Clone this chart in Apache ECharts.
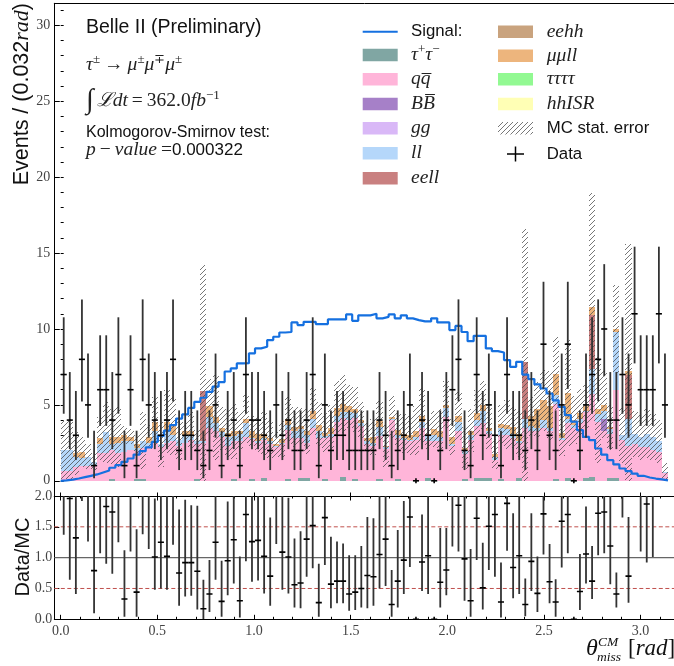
<!DOCTYPE html>
<html><head><meta charset="utf-8">
<script src="https://cdn.jsdelivr.net/npm/echarts@6/dist/echarts.min.js"></script>
<style>html,body{margin:0;padding:0;background:#fff}#c{width:674px;height:666px}</style>
</head><body><div id="c"></div>
<script>
// ---------------- binning ----------------
const binCount = 100;
const binLow = 0, binHigh = Math.PI;

// ---------------- tick labels ----------------
const xTickValues = [0, 0.5, 1.0, 1.5, 2.0, 2.5, 3.0];
const yMainTickValues = [0, 5, 10, 15, 20, 25, 30];
const yRatioTickValues = [0, 0.5, 1.0, 1.5, 2.0];
const ratioRefSolid = [1.0];
const ratioRefDashed = [0.5, 1.5];

// ---------------- data (counts per bin) ----------------
const dataCounts = [7,4,3,8,5,1,6,6,4,7,
 1,6,1,8,5,4,3,4,8,2,
 3,3,2,1,2,5,1,3,4,1,
 7,4,4,3,2,5,3,4,2,2,
 4,7,1,5,2,3,3,2,2,2,
 2,2,4,3,1,2,3,5,0,4,
 3,0,2,4,6,8,2,1,7,3,
 5,3,1,7,3,3,2,4,2,9,
 3,2,5,9,0,2,5,7,8,10,
 4,4,7,5,11,6,6,6,11,5];

// Garwood 68% Poisson intervals for n = 0..12
const garwoodLow = [0, 0.173, 0.708, 1.367, 2.086, 2.840, 3.620, 4.419, 5.232, 6.057, 6.891, 7.734, 8.585];
const garwoodHigh = [0, 3.300, 4.638, 5.918, 7.163, 8.382, 9.584, 10.77, 11.95, 13.11, 14.27, 15.42, 16.56];

// ---------------- signal ----------------
const signalTau3Mu = [0.03,0.08,0.15,0.24,0.33,0.42,0.55,0.68,0.86,1.03,
 1.25,1.47,1.73,1.95,2.2,2.57,2.96,3.3,3.67,4.1,
 4.37,4.8,5.2,5.47,5.86,6.2,6.5,7.2,7.4,7.73,
 7.75,8.4,8.72,8.83,9.27,9.49,9.77,9.8,10.43,10.26,
 10.47,10.47,10.32,10.32,10.63,10.63,10.63,10.96,10.54,10.9,
 10.9,11.0,10.7,10.8,10.96,10.7,10.9,10.7,10.58,10.5,
 10.5,10.7,10.43,10.43,9.93,10.2,9.8,9.2,9.55,9.55,
 8.72,8.54,8.45,7.95,7.5,7.84,7.0,6.7,6.35,6.08,
 5.75,5.3,4.87,4.33,3.9,3.34,2.9,2.68,2.13,1.73,
 1.36,1.08,0.81,0.64,0.48,0.33,0.22,0.15,0.1,0.03];

// ---------------- MC backgrounds ----------------
const bkgTauTau = [0,0,0,0,0,0,0,0,0.1,0,
 0,0,0.15,0.15,0,0,0,0,0,0,
 0,0,0.15,0,0,0,0,0,0.15,0,
 0,0.15,0,0.2,0,0,0,0.15,0,0.2,
 0.2,0,0,0.15,0,0,0.25,0,0.15,0,
 0,0,0.15,0,0,0.15,0,0,0,0,
 0.2,0,0,0,0,0,0.15,0,0.2,0.2,
 0.2,0,0.15,0,0,0.2,0,0,0,0,
 0,0.15,0,0.2,0,0,0.2,0.25,0,0,
 0.2,0.2,0,0,0,0,0,0,0,0];
const bkgQQ = [0.65,0.65,0.9,1.0,1.0,1.05,1.8,1.8,1.9,1.8,
 1.9,2.0,1.8,2.0,2.3,2.6,2.2,2.5,2.6,2.3,
 2.5,2.7,2.3,2.5,3.5,3.3,2.9,2.3,2.5,2.6,
 2.9,2.6,2.5,2.5,2.4,2.2,2.4,3.2,2.8,2.6,
 2.3,3.5,2.8,2.7,2.9,3.9,3.9,4.0,4.0,3.6,
 2.4,2.3,2.8,2.1,4.0,2.7,2.7,2.6,2.7,3.5,
 2.4,2.6,2.6,4.2,2.3,3.3,1.6,2.7,3.4,3.6,
 2.9,1.4,2.9,3.0,2.8,2.3,3.5,3.3,3.3,3.5,
 3.3,4.9,2.7,3.6,3.5,3.8,4.3,5.5,3.9,3.3,
 2.9,5.8,2.7,2.3,2.4,2.2,2.2,2.0,1.9,0.5];
const bkgBB = [0,0,0,0,0,0,0,0,0,0,
 0,0,0,0,0,0,0,0,0,0,
 0,0,0,0,0,0,0,0,0,0,
 0,0,0,0,0,0,0,0,0,0,
 0,0,0,0,0,0,0,0,0,0,
 0,0,0,0,0,0,0,0,0,0,
 0,0,0,0,0,0,0,0,0,0,
 0,0,0,0,0,0,0,0,0,0,
 0,0,0,0,0,0,0,0,0,0.8,
 0,0,0,0,0,0,0,0,0,0];
const bkgLL = [1.4,1.4,0.7,0.5,0.6,0.2,0.6,1.4,0.4,0.7,
 0.7,0.6,0.2,0.5,0.2,0.7,0.2,0.7,0.4,0.4,
 0.5,0.3,0.2,0.1,0.7,0.5,0.3,0.6,0.3,0.5,
 0.9,0.1,0.1,0.1,0.2,0.1,0.1,0.3,0.5,0.6,
 0.5,0.6,0.5,0.1,0.2,0.4,0.4,0.5,0.3,0.2,
 0.2,0.2,0.6,0.1,0.1,0.2,0.1,0.1,0.2,0.4,
 0.4,0.4,0.3,0.6,0.1,0.6,0.2,0.3,0.4,0.8,
 0.2,0.2,0.4,0.4,0.3,0.1,0.6,0.3,0.2,0.5,
 0.2,0.6,0.1,0.3,0.2,0.3,0.1,1.6,0.5,0.5,
 0.3,3.8,0.3,1.8,0.7,0.7,0.9,0.9,0.7,0.1];
const bkgEEll = [0,0,0,0,0,0,0,0,0,0,
 0,0,0,0,0,0,0,0,0,0,
 0,0,0,3.3,0,0,0,0,0,0,
 0,0,0,0,0,0,0,0,0,0,
 0,0,0,0,0,0,0,0,0,0,
 0,0,0,0,0,0,0,0,0,0,
 0,0,0,0,0,0,0,0,0,0,
 0,0,0,0,0,0,3.7,0,0,0,
 0,0,0,0,0,0,0,3.6,0,0,
 0,0,0,2.9,0,0,0,0,0,0];
const bkgMuMuLL = [0,0,0.2,0.4,0,0,0.4,0,0.5,0.4,
 0.4,0.3,0.3,0,0.4,0.6,0,0.7,0.6,0,
 0.3,0.3,0,0,0.7,0.4,0.25,0.26,0.3,0.2,
 0.3,0.45,0.5,0.3,0.2,0.1,0.25,0.45,0.25,0.2,
 0.25,0.5,0.4,0.23,0.4,0.5,0.5,0.4,0.25,0.2,
 0.2,0.4,0.4,0.1,0.1,0.3,0.3,0.3,0.4,0.4,
 0.1,0.4,0.4,0.2,0.5,0.4,0.2,0.3,0.45,0.4,
 0.2,0.16,0.27,0.3,0.45,0.5,0,0.65,1.2,1.3,
 1.4,1.4,0.35,1.7,0.3,0.35,0.3,0.5,0.3,0.4,
 0.15,0.2,0,0.2,0,0,0,0,0,0];
const mcStatErr = [1.9,2.0,1.4,1.0,0.8,0.6,1.4,2.0,1.8,2.0,
 0.6,0.5,0.6,1.9,0.8,1.6,1.5,2.1,1.9,1.3,
 0.6,1.2,0.7,8.3,1.8,2.8,1.4,1.6,1.8,1.2,
 1.6,1.0,1.2,1.4,1.3,0.8,1.2,1.5,1.3,1.2,
 1.5,1.6,1.5,1.3,1.5,1.8,1.9,1.4,1.5,1.2,
 1.0,1.2,1.3,1.4,1.4,1.2,1.3,1.3,1.6,1.8,
 1.0,1.2,1.4,1.6,1.2,1.6,1.4,1.4,1.5,1.6,
 1.4,1.0,1.3,1.6,1.4,1.5,8.8,1.3,1.8,2.0,
 2.3,2.4,1.5,3.5,1.6,1.6,1.4,7.5,3.5,2.2,
 1.5,2.9,1.8,8.4,1.5,1.5,1.6,1.5,1.4,0.6];

// ---------------- Data / MC ratio ----------------
const ratioVal = [2.2,1.96,1.32,2.5,2.3,0.79,2.1,1.83,1.74,2.2,
 0.33,2.2,0.44,2.4,2.1,1.01,1.25,1.02,2.2,0.75,
 0.92,0.92,0.78,0.17,0.41,1.25,0.29,0.95,1.29,0.30,
 1.70,1.26,1.28,1.02,0.70,2.2,1.09,1.01,0.56,0.59,
 1.30,1.52,0.27,1.65,0.57,0.62,0.62,0.41,0.44,0.50,
 0.71,0.69,1.05,1.30,0.24,0.62,0.96,1.66,0,0.93,
 1.03,0,0.60,0.80,2.2,1.85,0.98,0.30,1.64,0.51,
 1.51,1.70,0.28,1.88,0.84,1.03,0.24,0.94,0.42,1.71,
 0.61,0.28,1.59,1.70,0,0.45,1.06,0.62,1.72,1.74,
 1.19,0.41,2.5,0.70,3.0,2.2,1.87,2.1,3.0,2.5];
const ratioLow = [1.37,0.64,0.41,1.92,1.26,0.10,1.07,0.90,0.74,1.25,
 0.04,1.10,0.04,1.38,1.14,0.48,0.50,0.48,1.21,0.22,
 0.37,0.38,0.16,0.0,0.12,0.64,0.04,0.39,0.58,0.03,
 0.94,0.61,0.63,0.42,0.22,1.22,0.48,0.42,0.19,0.18,
 0.69,0.83,0.04,0.88,0.18,0.26,0.26,0.14,0.15,0.19,
 0.18,0.22,0.50,0.54,0.04,0.19,0.41,0.85,0,0.46,
 0.41,0,0.19,0.39,1.18,1.10,0.30,0.04,0.96,0.16,
 0.80,0.69,0.03,1.11,0.34,0.41,0.05,0.46,0.12,1.05,
 0.26,0.04,0.84,1.07,0,0.15,0.58,0.33,1.04,1.07,
 0.57,0.19,1.65,0.27,2.1,1.10,0.92,1.01,2.1,2.1];
const ratioHigh = [4,4,3,4,4,2.5,4,3,3,4,
 1.12,4,1.46,4,4,1.96,3,2.1,4,1.78,
 1.94,1.85,1.84,0.64,0.96,2.3,0.95,1.91,2.3,1.02,
 3,2.3,2.3,2.1,1.65,4,2.1,1.97,1.31,1.43,
 2.3,2.5,0.90,2.7,1.34,1.26,1.23,1.04,1.04,1.19,
 1.66,1.64,2.1,2.5,0.80,1.45,1.92,2.7,0,1.70,
 2.1,0,1.48,1.48,4,3,2.1,1.14,2.6,1.24,
 2.5,3,0.92,3,1.72,2.1,0.66,1.72,1.02,2.5,
 1.22,0.65,2.7,2.5,0,1.06,1.83,1.19,2.6,2.6,
 2.1,0.76,4,1.66,5,4,3,4,5,4];

// ---------------- styling ----------------
const xMin = -0.033, xMax = 3.183;
const yMainMin = -1.0, yMainMax = 31.45;
const SANS = '"Liberation Sans", Arial, sans-serif';
const SERIF = '"Liberation Serif", "DejaVu Serif", serif';
const colors = {
  signal: '#1570e0', tautau: '#80a6a3', qq: '#ffb5d9', BB: '#a680c8', gg: '#d9b8f7',
  ll: '#b5d7fa', eell: '#c98080', eehh: '#c9a37e', mumull: '#edb57d', tttt: '#92f992', hhISR: '#ffffb5'
};

// hatch pattern
const hatch = document.createElement('canvas');
hatch.width = 5; hatch.height = 5;
(function(){const g = hatch.getContext('2d'); g.strokeStyle = '#4a4a4a'; g.lineWidth = 0.75;
 g.beginPath(); g.moveTo(0,5); g.lineTo(5,0); g.moveTo(-1,1); g.lineTo(1,-1); g.moveTo(4,6); g.lineTo(6,4); g.stroke();})();
const hatchFill = {image: hatch, repeat: 'repeat'};

const binW = (binHigh - binLow) / binCount;
const edge = i => binLow + binW * i;

// ---------------- build series ----------------
function rectRender(fill){
  return function(params, api){
    const a = api.coord([api.value(0), api.value(2)]);
    const b = api.coord([api.value(1), api.value(3)]);
    const x0 = Math.round(a[0]), x1 = Math.round(b[0]);
    const y0 = Math.round(a[1]), y1 = Math.round(b[1]);
    if (y0 - y1 <= 0) return {type:'group', children:[]};
    return {type:'rect', shape:{x:x0, y:y1, width:x1-x0, height:y0-y1}, style:{fill: fill}};
  };
}
const stackComps = [
  {vals: bkgTauTau, color: colors.tautau},
  {vals: bkgQQ, color: colors.qq},
  {vals: bkgBB, color: colors.BB},
  {vals: bkgLL, color: colors.ll},
  {vals: bkgEEll, color: colors.eell},
  {vals: bkgMuMuLL, color: colors.mumull}
];
const running = dataCounts.map(() => 0);
const series = [];
stackComps.forEach(c => {
  const items = [];
  for (let i = 0; i < binCount; i++){
    const lo = running[i]; running[i] += c.vals[i];
    items.push([edge(i), edge(i+1), lo, running[i]]);
  }
  series.push({type:'custom', xAxisIndex:0, yAxisIndex:0, z:2, silent:true,
    encode:{x:[0,1], y:[2,3]}, data: items, renderItem: rectRender(c.color)});
});
// MC stat error band
const errItems = [];
for (let i = 0; i < binCount; i++){
  errItems.push([edge(i), edge(i+1), Math.max(0, running[i] - mcStatErr[i]), running[i] + mcStatErr[i]]);
}
series.push({type:'custom', xAxisIndex:0, yAxisIndex:0, z:3, silent:true,
  encode:{x:[0,1], y:[2,3]}, data: errItems, renderItem: rectRender(hatchFill)});

// signal step line
const sigPts = [[edge(0), 0]];
for (let i = 0; i < binCount; i++){ sigPts.push([edge(i), signalTau3Mu[i]]); sigPts.push([edge(i+1), signalTau3Mu[i]]); }
sigPts.push([edge(binCount), 0]);
series.push({type:'line', xAxisIndex:0, yAxisIndex:0, z:4, data: sigPts, showSymbol:false, symbol:'none',
  lineStyle:{color: colors.signal, width: 2.2}, silent:true, animation:false});

// data points
function errRender(params, api){
  const xc = api.value(0), v = api.value(1), lo = api.value(2), hi = api.value(3);
  const xs = api.value(4), xe = api.value(5), show = api.value(6);
  const pLo = api.coord([xc, lo]), pHi = api.coord([xc, hi]);
  const m0 = api.coord([xs, v]), m1 = api.coord([xe, v]);
  const ch = [];
  if (pLo[1] - pHi[1] > 0.5) ch.push({type:'line', shape:{x1:pLo[0], y1:pLo[1], x2:pHi[0], y2:pHi[1]}, style:{stroke:'#333', lineWidth:1.8}});
  else ch.push({type:'line', shape:{x1:m0[0]/2+m1[0]/2, y1:m0[1]-2.5, x2:m0[0]/2+m1[0]/2, y2:m0[1]+2.5}, style:{stroke:'#000', lineWidth:1.6}});
  if (show) ch.push({type:'line', shape:{x1:m0[0], y1:m0[1], x2:m1[0], y2:m1[1]}, style:{stroke:'#000', lineWidth:1.6}});
  return {type:'group', children: ch};
}
const dataItems = dataCounts.map((n, i) => [edge(i) + binW/2, n, garwoodLow[n], garwoodHigh[n], edge(i), edge(i+1), 1]);
series.push({type:'custom', xAxisIndex:0, yAxisIndex:0, z:5, silent:true,
  encode:{x:0, y:[1,2,3]}, data: dataItems, renderItem: errRender});

// ratio reference lines
ratioRefSolid.forEach(v => series.push({type:'line', xAxisIndex:2, yAxisIndex:2, z:1, symbol:'none', silent:true,
  data:[[xMin, v],[xMax, v]], lineStyle:{color:'#666', width:1.2}}));
ratioRefDashed.forEach(v => series.push({type:'line', xAxisIndex:2, yAxisIndex:2, z:1, symbol:'none', silent:true,
  data:[[xMin, v],[xMax, v]], lineStyle:{color:'#c0504d', width:1, type:[4,2.5]}}));
// ratio points
const ratioItems = ratioVal.map((r, i) => [edge(i) + binW/2, Math.min(r, 2.5), ratioLow[i], Math.min(ratioHigh[i], 2.05), edge(i), edge(i+1), r <= 2 ? 1 : 0]);
series.push({type:'custom', xAxisIndex:2, yAxisIndex:2, z:5, silent:true, clip:true,
  encode:{x:0, y:[1,2,3]}, data: ratioItems, renderItem: errRender});

// ---------------- axes ----------------
const minorX = []; for (let k = 0; k <= 31; k++) minorX.push(k/10);
const minorYMain = []; for (let k = -1; k <= 31; k++) minorYMain.push(k);
const tickLabelStyle = {fontFamily: SERIF, fontSize: 14, color: '#444'};
function xAx(grid, pos, opts){
  return Object.assign({gridIndex: grid, type:'value', min:xMin, max:xMax, position:pos,
    axisLine:{show:false, lineStyle:{color:'#000', width:1}}, axisTick:{show:false}, axisLabel:{show:false},
    splitLine:{show:false}, minorTick:{show:false}}, opts);
}
const xAxes = [
  xAx(0, 'bottom', {axisLine:{show:true, onZero:false, lineStyle:{color:'#000', width:1}},
    axisTick:{show:true, inside:true, length:3.5, customValues:xTickValues, lineStyle:{color:'#000'}}}),
  xAx(0, 'top', {axisLine:{show:true, onZero:false, lineStyle:{color:'#000', width:1}}}),
  xAx(1, 'bottom', {axisLine:{show:true, onZero:false, lineStyle:{color:'#000', width:1}},
    axisTick:{show:true, inside:true, length:4.5, customValues:xTickValues, lineStyle:{color:'#000'}},
    axisLabel:Object.assign({show:true, customValues:xTickValues, margin:5, formatter: v => v.toFixed(1)}, tickLabelStyle)}),
  xAx(1, 'bottom', {axisTick:{show:true, inside:true, length:2.5, customValues:minorX, lineStyle:{color:'#000'}}}),
  xAx(1, 'top', {axisLine:{show:true, onZero:false, lineStyle:{color:'#000', width:1}},
    axisTick:{show:true, inside:true, length:4.5, customValues:xTickValues, lineStyle:{color:'#000'}}}),
  xAx(1, 'top', {axisTick:{show:true, inside:true, length:2.5, customValues:minorX, lineStyle:{color:'#000'}}})
];
const yAxes = [
  {gridIndex:0, type:'value', min:yMainMin, max:yMainMax, position:'left',
    axisLine:{show:true, onZero:false, lineStyle:{color:'#000', width:1}},
    axisTick:{show:true, inside:true, length:5.5, customValues:yMainTickValues, lineStyle:{color:'#000'}},
    axisLabel:Object.assign({show:true, customValues:yMainTickValues, margin:4}, tickLabelStyle),
    splitLine:{show:false}},
  {gridIndex:0, type:'value', min:yMainMin, max:yMainMax, position:'left',
    axisLine:{show:false}, axisTick:{show:true, inside:true, length:3, customValues:minorYMain, lineStyle:{color:'#000'}},
    axisLabel:{show:false}, splitLine:{show:false}},
  {gridIndex:1, type:'value', min:0, max:2, position:'left',
    axisLine:{show:true, onZero:false, lineStyle:{color:'#000', width:1}},
    axisTick:{show:true, inside:true, length:5, customValues:yRatioTickValues, lineStyle:{color:'#000'}},
    axisLabel:Object.assign({show:true, customValues:yRatioTickValues, margin:2, formatter: v => v.toFixed(1)}, tickLabelStyle),
    splitLine:{show:false}}
];

// ---------------- text & legend ----------------
const gfx = [];
const IT = 'italic 19.5px ' + SERIF, RM = '19.5px ' + SERIF;
const mathRich = {
  m:{font: IT, fill:'#222'},
  r:{font: RM, fill:'#222'},
  rel:{font: RM, fill:'#222', padding:[0,4,0,4]},
  rell:{font: RM, fill:'#222', padding:[0,0,0,4]},
  s:{font: '17px ' + SANS, fill:'#111'},
  ls:{font: '16.8px ' + SANS, fill:'#111'},
  sup:{font: '13px ' + SERIF, fill:'#222', padding:[0,0,10,0]},
  big:{font: '28px ' + SERIF, fill:'#222', padding:[0,3,0,0]}
};
function txt(x, y, text, font, extra){
  gfx.push({type:'text', x:x, y:y, z:10, silent:true,
    style:Object.assign({text:text, font:font, fill:'#111', verticalAlign:'middle', align:'left'}, extra||{})});
}
function rich(x, y, text, extra){
  gfx.push({type:'text', x:x, y:y, z:10, silent:true,
    style:Object.assign({text:text, rich:mathRich, font: RM, verticalAlign:'middle', align:'left'}, extra||{})});
}
txt(86, 28, 'Belle II (Preliminary)', '19.5px ' + SANS);
rich(86, 65, '{m|τ}{sup|±}{rel|→}{m|μ}{sup|±}{m|μ}{sup|∓}{m|μ}{sup|±}');
rich(86, 101, '{big|∫}{m|ℒdt}{rel|=}{r|362.0}{m|fb}{sup|−1}');
txt(86, 133, 'Kolmogorov-Smirnov test:', '16px ' + SANS);
rich(86, 150, '{m|p}{rel|−}{m|value}{rell|=}{s|0.000322}');

// axis titles
gfx.push({type:'text', x:22, y:3, rotation:Math.PI/2, z:10, silent:true,
  style:{text:'{s|Events / (0.032}{m|rad}{s|)}', font:'21.5px ' + SANS, align:'right', verticalAlign:'middle',
    rich:{s:{font:'21.5px ' + SANS, fill:'#111'}, m:{font:'italic 22px ' + SERIF, fill:'#111'}}}});
gfx.push({type:'text', x:23, y:557, rotation:Math.PI/2, z:10, silent:true,
  style:{text:'Data/MC', font:'20px ' + SANS, fill:'#111', align:'center', verticalAlign:'middle'}});
txt(586, 649, 'θ', 'italic 24px ' + SERIF);
txt(598, 642, 'CM', 'italic 13.5px ' + SERIF);
txt(597, 657, 'miss', 'italic 13.5px ' + SERIF);
gfx.push({type:'text', x:628, y:649, z:10, silent:true,
  style:{text:'{r|[}{m|rad}{r|]}', font:'23px ' + SERIF, verticalAlign:'middle', align:'left',
    rich:{r:{font:'23px ' + SERIF, fill:'#111'}, m:{font:'italic 23px ' + SERIF, fill:'#111'}}}});

// legend
const legCol1 = [
  {y:31.7, kind:'line', color:colors.signal, label:'{ls|Signal:}'},
  {y:55, color:colors.tautau, label:'{m|τ}{sup|+}{m|τ}{sup|−}'},
  {y:79.3, color:colors.qq, label:'{m|qq̅}'},
  {y:104, color:colors.BB, label:'{m|BB̅}'},
  {y:128.3, color:colors.gg, label:'{m|gg}'},
  {y:153.3, color:colors.ll, label:'{m|ll}'},
  {y:178.3, color:colors.eell, label:'{m|eell}'}
];
const legCol2 = [
  {y:31.7, color:colors.eehh, label:'{m|eehh}'},
  {y:55.7, color:colors.mumull, label:'{m|μμll}'},
  {y:79.3, color:colors.tttt, label:'{m|ττττ}'},
  {y:104, color:colors.hhISR, label:'{m|hhISR}'},
  {y:128.3, kind:'hatch', label:'{ls|MC stat. error}'},
  {y:154, kind:'data', label:'{ls|Data}'}
];
function legEntry(e, sx, tx){
  if (e.kind === 'line'){
    gfx.push({type:'line', z:10, silent:true, shape:{x1:sx, y1:e.y, x2:sx+35, y2:e.y}, style:{stroke:e.color, lineWidth:2}});
  } else if (e.kind === 'hatch'){
    gfx.push({type:'rect', z:10, silent:true, shape:{x:sx, y:e.y-6.3, width:35, height:12.6}, style:{fill:hatchFill}});
  } else if (e.kind === 'data'){
    gfx.push({type:'line', z:10, silent:true, shape:{x1:sx+9, y1:e.y, x2:sx+26, y2:e.y}, style:{stroke:'#000', lineWidth:1.5}});
    gfx.push({type:'line', z:10, silent:true, shape:{x1:sx+17.5, y1:e.y-7.5, x2:sx+17.5, y2:e.y+7.5}, style:{stroke:'#000', lineWidth:1.5}});
  } else {
    gfx.push({type:'rect', z:10, silent:true, shape:{x:sx, y:e.y-6.3, width:35, height:12.6}, style:{fill:e.color}});
  }
  rich(tx, e.y, e.label);
}
legCol1.forEach(e => legEntry(e, 362.7, 411));
legCol2.forEach(e => legEntry(e, 498, 546.7));

const chart = echarts.init(document.getElementById('c'), null, {renderer:'canvas', width:674, height:666});
chart.setOption({
  animation:false,
  backgroundColor:'#fff',
  grid:[
    {left:54.3, right:-2, top:3.3, height:492.7, outerBoundsMode:'none', containLabel:false},
    {left:54.3, right:-2, top:496, height:123.3, outerBoundsMode:'none', containLabel:false}
  ],
  xAxis: xAxes,
  yAxis: yAxes,
  series: series,
  graphic: gfx
});
</script></body></html>
